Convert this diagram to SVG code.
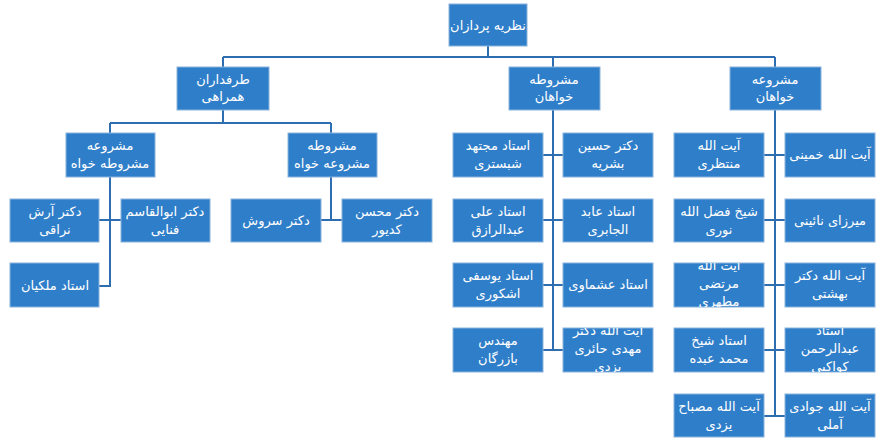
<svg xmlns="http://www.w3.org/2000/svg" width="888" height="443" viewBox="0 0 888 443">
<style>
.b{fill:#2f7ec9;stroke:#8ab4dd;stroke-width:1}
.t{fill:#fff;font-family:"DejaVu Sans",sans-serif;font-size:13px;text-anchor:middle;direction:rtl}
.c{stroke:#2e6eb0;stroke-width:2;fill:none}
</style>
<rect width="888" height="443" fill="#fff"/>
<g id="connectors" class="c">
<path d="M488 46V57M223 57H775M223 57V67M553 57V67M775 57V67"/>
<path d="M223 110V123M110 123H331M110 123V133M331 123V133"/>
<path d="M110 177V286H99M99 220H121M331 177V220M321 220H342"/>
<path d="M553 110V351M543 155H563M543 220H563M543 285H563M543 350H563"/>
<path d="M775 110V416M764 155H785M764 220H785M764 285H785M764 350H785M764 416H785"/>
</g>
<defs>
<clipPath id="k1"><rect x="674" y="263" width="90" height="44"/></clipPath>
<clipPath id="k2"><rect x="785" y="328" width="90" height="44"/></clipPath>
<clipPath id="k3"><rect x="563" y="328" width="90" height="44"/></clipPath>
</defs>
<g id="root"><rect class="b" x="449" y="4" width="78" height="42"/><text class="t" x="488" y="30">نظریه پردازان</text></g>
<g id="n1"><rect class="b" x="177" y="67" width="92" height="43"/><text class="t" x="223" y="84">طرفداران</text><text class="t" x="223" y="101">همراهی</text></g>
<g id="n2"><rect class="b" x="509" y="67" width="91" height="43"/><text class="t" x="554" y="84">مشروطه</text><text class="t" x="554" y="101">خواهان</text></g>
<g id="n3"><rect class="b" x="730" y="67" width="91" height="43"/><text class="t" x="775" y="84">مشروعه</text><text class="t" x="775" y="101">خواهان</text></g>
<g id="n4"><rect class="b" x="66" y="133" width="89" height="44"/><text class="t" x="110" y="150">مشروعه</text><text class="t" x="110" y="168">مشروطه خواه</text></g>
<g id="n5"><rect class="b" x="288" y="133" width="89" height="44"/><text class="t" x="332" y="150">مشروطه</text><text class="t" x="332" y="168">مشروعه خواه</text></g>
<g id="n6"><rect class="b" x="10" y="199" width="89" height="43"/><text class="t" x="55" y="216">دکتر آرش</text><text class="t" x="55" y="234">نراقی</text></g>
<g id="n7"><rect class="b" x="121" y="199" width="89" height="43"/><text class="t" x="165" y="216">دکتر ابوالقاسم</text><text class="t" x="165" y="234">فنایی</text></g>
<g id="n8"><rect class="b" x="10" y="263" width="89" height="44"/><text class="t" x="55" y="290">استاد ملکیان</text></g>
<g id="n9"><rect class="b" x="231" y="199" width="90" height="43"/><text class="t" x="276" y="225">دکتر سروش</text></g>
<g id="n10"><rect class="b" x="342" y="199" width="90" height="43"/><text class="t" x="387" y="216">دکتر محسن</text><text class="t" x="387" y="234">کدیور</text></g>
<g id="n11"><rect class="b" x="453" y="133" width="90" height="44"/><text class="t" x="498" y="150">استاد مجتهد</text><text class="t" x="498" y="168">شبستری</text></g>
<g id="n12"><rect class="b" x="563" y="133" width="90" height="44"/><text class="t" x="608" y="150">دکتر حسین</text><text class="t" x="608" y="168">بشریه</text></g>
<g id="n13"><rect class="b" x="453" y="199" width="90" height="43"/><text class="t" x="498" y="216">استاد علی</text><text class="t" x="498" y="234">عبدالرازق</text></g>
<g id="n14"><rect class="b" x="563" y="199" width="90" height="43"/><text class="t" x="608" y="216">استاد عابد</text><text class="t" x="608" y="234">الجابری</text></g>
<g id="n15"><rect class="b" x="453" y="263" width="90" height="44"/><text class="t" x="498" y="280">استاد یوسفی</text><text class="t" x="498" y="298">اشکوری</text></g>
<g id="n16"><rect class="b" x="563" y="263" width="90" height="44"/><text class="t" x="608" y="289">استاد عشماوی</text></g>
<g id="n17"><rect class="b" x="453" y="328" width="90" height="44"/><text class="t" x="498" y="345">مهندس</text><text class="t" x="498" y="363">بازرگان</text></g>
<g id="n18"><rect class="b" x="563" y="328" width="90" height="44"/><g clip-path="url(#k3)"><text class="t" x="608" y="335">آیت الله دکتر</text><text class="t" x="608" y="353">مهدی حائری</text><text class="t" x="608" y="371">یزدی</text></g></g>
<g id="n19"><rect class="b" x="674" y="133" width="90" height="44"/><text class="t" x="719" y="150">آیت الله</text><text class="t" x="719" y="168">منتظری</text></g>
<g id="n20"><rect class="b" x="785" y="133" width="90" height="44"/><text class="t" x="830" y="159">آیت الله خمینی</text></g>
<g id="n21"><rect class="b" x="674" y="199" width="90" height="43"/><text class="t" x="719" y="216">شیخ فضل الله</text><text class="t" x="719" y="234">نوری</text></g>
<g id="n22"><rect class="b" x="785" y="199" width="90" height="43"/><text class="t" x="830" y="225">میرزای نائینی</text></g>
<g id="n23"><rect class="b" x="674" y="263" width="90" height="44"/><g clip-path="url(#k1)"><text class="t" x="719" y="270">آیت الله</text><text class="t" x="719" y="288">مرتضی</text><text class="t" x="719" y="306">مطهری</text></g></g>
<g id="n24"><rect class="b" x="785" y="263" width="90" height="44"/><text class="t" x="830" y="280">آیت الله دکتر</text><text class="t" x="830" y="298">بهشتی</text></g>
<g id="n25"><rect class="b" x="674" y="328" width="90" height="44"/><text class="t" x="719" y="345">استاد شیخ</text><text class="t" x="719" y="363">محمد عبده</text></g>
<g id="n26"><rect class="b" x="785" y="328" width="90" height="44"/><g clip-path="url(#k2)"><text class="t" x="830" y="335">استاد</text><text class="t" x="830" y="353">عبدالرحمن</text><text class="t" x="830" y="371">کواکبی</text></g></g>
<g id="n27"><rect class="b" x="674" y="394" width="90" height="43"/><text class="t" x="719" y="411">آیت الله مصباح</text><text class="t" x="719" y="429">یزدی</text></g>
<g id="n28"><rect class="b" x="785" y="394" width="90" height="43"/><text class="t" x="830" y="411">آیت الله جوادی</text><text class="t" x="830" y="429">آملی</text></g>
</svg>
